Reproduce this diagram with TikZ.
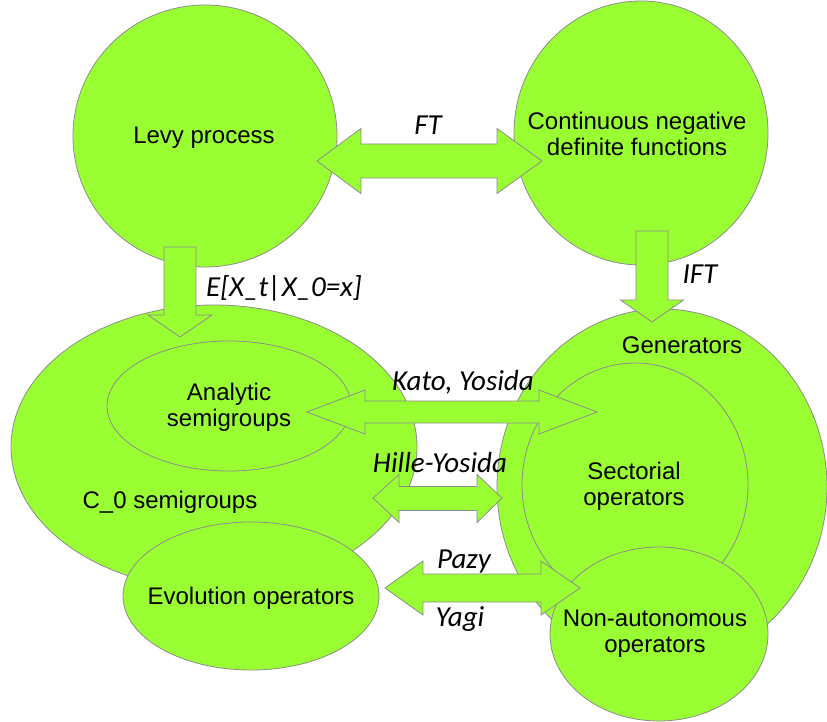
\documentclass[tikz,border=0pt]{standalone}
\usepackage{fontspec}
\setmainfont{Liberation Sans}
\newfontfamily\lblfont{Carlito}
\usetikzlibrary{shapes.geometric}
\definecolor{blobfill}{RGB}{153,255,51}
\definecolor{blobline}{RGB}{140,140,140}
\tikzset{
  blob/.style={ellipse, draw=blobline, fill=blobfill, line width=0.8pt, inner sep=0pt, outer sep=0pt},
  barrow/.style={draw=blobline, fill=blobfill, line width=0.8pt, line join=miter},
  txt/.style={inner sep=0pt, font=\fontsize{24}{26}\selectfont, text=black, align=center},
  lbl/.style={inner sep=0pt, font=\lblfont\itshape\fontsize{29}{31}\selectfont, text=black, anchor=base},
}
\begin{document}
\begin{tikzpicture}[x=1pt,y=-1pt]
\useasboundingbox (0,0) rectangle (827,722);
\fill[white] (0,0) rectangle (827,722);

% ellipses / circles
\node[blob, minimum width=264pt, minimum height=262pt] (levy) at (205,136) {};
\node[blob, minimum width=254pt, minimum height=264pt] (cndf) at (641,133) {};
\node[blob, minimum width=406pt, minimum height=284pt] (czero) at (214,447) {};
\node[blob, minimum width=244pt, minimum height=130pt] (analytic) at (229,406) {};
\node[blob, minimum width=256pt, minimum height=148pt] (evol) at (251,596) {};
\node[blob, minimum width=330pt, minimum height=356pt] (gen) at (662,487) {};
\node[blob, minimum width=226pt, minimum height=244pt] (sect) at (635,485) {};
\node[blob, minimum width=218pt, minimum height=174pt] (nonaut) at (659,634) {};

% block arrows
\draw[barrow] (317,161) -- (361,128.5) -- (361,144) -- (497,144) -- (497,128.5) -- (542,161)
  -- (497,193.5) -- (497,178) -- (361,178) -- (361,193.5) -- cycle;
\draw[barrow] (164,247) -- (196,247) -- (196,315) -- (212,315) -- (180,337) -- (148,315) -- (164,315) -- cycle;
\draw[barrow] (636,231) -- (668,231) -- (668,300) -- (683.5,300) -- (652,322) -- (620.5,300) -- (636,300) -- cycle;
\draw[barrow] (307,412) -- (365,390) -- (365,401) -- (539,401) -- (539,390) -- (597,412)
  -- (539,434) -- (539,423) -- (365,423) -- (365,434) -- cycle;
\draw[barrow] (373,498) -- (399,474.5) -- (399,486.5) -- (477,486.5) -- (477,474.5) -- (502,498)
  -- (477,522.5) -- (477,510.5) -- (399,510.5) -- (399,522.5) -- cycle;
\draw[barrow] (385,588) -- (423,561) -- (423,574) -- (541,574) -- (541,561) -- (580,588)
  -- (541,615) -- (541,602) -- (423,602) -- (423,615) -- cycle;

% texts
\node[txt, anchor=base] (tlevy) at (204,144) {Levy process};
\node[txt] (tcndf) at (637,134) {Continuous negative\\definite functions};
\node[txt] (tanal) at (229,407) {Analytic\\semigroups};
\node[txt, anchor=base] (tczero) at (170,508) {C\_0 semigroups};
\node[txt, anchor=base] (tevol) at (251,604) {Evolution operators};
\node[txt, anchor=base] (tgen) at (682,353) {Generators};
\node[txt] (tsect) at (634,486) {Sectorial\\operators};
\node[txt] (tnon) at (655,634) {Non-autonomous\\operators};

% labels
\node[lbl] (lft) at (428,135) {FT};
\node[lbl] (lexp) at (284,296) {E[X\_t|X\_0=x]};
\node[lbl] (lift) at (700,283) {IFT};
\node[lbl] (lkato) at (463,390) {Kato, Yosida};
\node[lbl] (lhille) at (440,472) {Hille-Yosida};
\node[lbl] (lpazy) at (464,568) {Pazy};
\node[lbl] (lyagi) at (460,626) {Yagi};
\end{tikzpicture}
\end{document}
